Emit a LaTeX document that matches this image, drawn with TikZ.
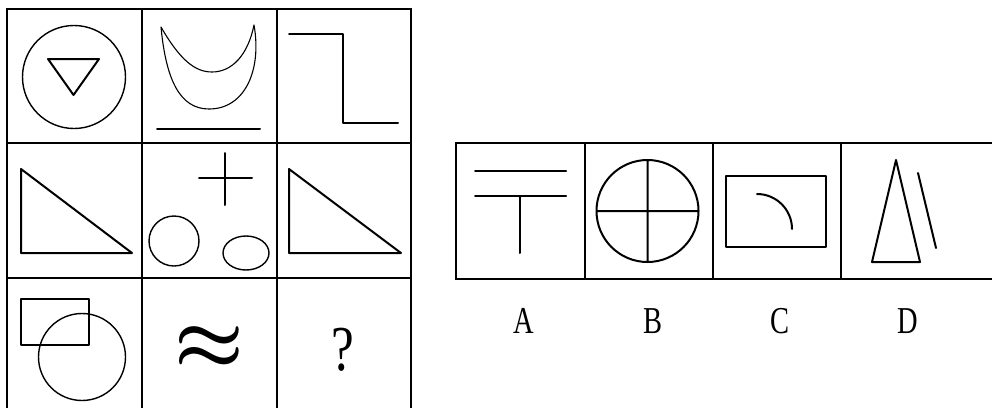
\documentclass[tikz,border=0pt]{standalone}
\usepackage{amsmath}
\usepackage{fontspec}
\newfontfamily\optfont{Liberation Serif}
\begin{document}
\begin{tikzpicture}[
        x=1pt,y=-1pt,
        frame/.style={line width=2.4pt},
        cell/.style={line width=1.4pt},
        fig/.style={line width=1.4pt},
        heavy/.style={line width=2pt},
        letter/.style={font=\optfont\fontsize{38}{40}\selectfont,xscale=.75,inner sep=0pt,anchor=base},
        line cap=round,line join=round
    ]
    \useasboundingbox (0,0) rectangle (992,407);
    \clip (0,0) rectangle (992,407);
    % question grid
    \draw[cell] (7,143) -- (411,143) (7,278) -- (411,278)
    (142,9) -- (142,420) (277,9) -- (277,420);
    \draw[frame,line cap=butt,line join=miter] (7,420) -- (7,9) -- (411,9) -- (411,420);
    % row 1
    \draw[fig] (74,77) circle (51.5);
    \draw[heavy] (48,59) -- (99,59) -- (73.5,95) -- cycle;
    \draw[fig,line width=1.1pt] (161,27) .. controls (166,80) and (180,109) .. (209,109)
    .. controls (245,109) and (262,70) .. (254,25)
    .. controls (248,55) and (232,72) .. (212,72)
    .. controls (195,72) and (180,60) .. (161,27);
    \draw[heavy] (157,129) -- (260,129);
    \draw[heavy] (289,34) -- (343,34) -- (343,123) -- (398,123);
    % row 2
    \draw[heavy] (21,169) -- (21,253) -- (132,253) -- cycle;
    \draw[heavy] (225,153) -- (225,205) (199,178) -- (252,178);
    \draw[fig] (174,241) circle (25);
    \draw[fig] (246,253) ellipse [x radius=23, y radius=17];
    \draw[heavy] (289,169) -- (289,253) -- (401,253) -- cycle;
    % row 3
    \draw[heavy] (21,299) rectangle (89,345);
    \draw[fig] (82,357) circle (43.5);
    \node[scale=7.8,inner sep=0pt] (wave) at (209,348) {$\boldsymbol{\approx}$};
    \node[font=\optfont\fontsize{64}{66}\selectfont,xscale=.8] (qmark) at (343,350) {?};
    % answer options
    \draw[cell] (585,143) -- (585,279) (713,143) -- (713,279) (841,143) -- (841,279);
    \draw[frame,line cap=butt,line join=miter] (1000,143) -- (456,143) -- (456,279) -- (1000,279);
    \draw[heavy] (475,171) -- (566,171) (475,196) -- (566,196) (520,196) -- (520,253);
    \draw[heavy] (647.5,211) circle (51) (596.5,211) -- (698.5,211) (647.5,160) -- (647.5,262);
    \draw[heavy] (726,176) rectangle (826,247);
    \draw[heavy] (757,194) arc[start angle=-90,end angle=0,radius=35];
    \draw[heavy] (896,160) -- (872,262) -- (920,262) -- cycle;
    \draw[heavy] (918,173) -- (936,248);
    \node[letter] (labA) at (524,333) {A};
    \node[letter] (labB) at (653,333) {B};
    \node[letter] (labC) at (780,333) {C};
    \node[letter] (labD) at (908,333) {D};
\end{tikzpicture}
\end{document}
